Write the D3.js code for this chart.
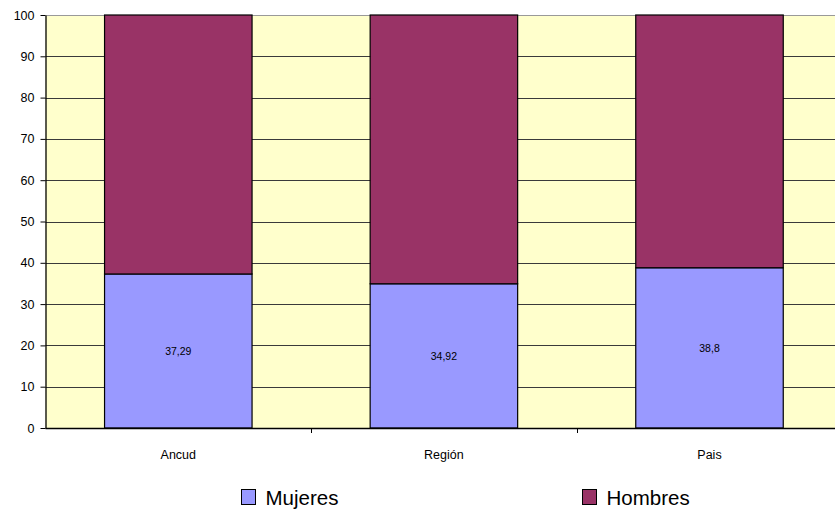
<!DOCTYPE html>
<html><head><meta charset="utf-8">
<script src="https://cdn.jsdelivr.net/npm/d3@7"></script>
<style>body{margin:0;background:#fff;}svg{display:block;font-family:"Liberation Sans",Arial,sans-serif;}</style>
</head><body><svg id="c" width="835" height="514"></svg>
<script>
const categories = ["Ancud", "Región", "Pais"];
const mujeres = [37.29, 34.92, 38.8];
const hombres = [62.71, 65.08, 61.2];
const mujeresLabels = ["37,29", "34,92", "38,8"];
const yTicks = [0,10,20,30,40,50,60,70,80,90,100];
const seriesNames = ["Mujeres", "Hombres"];
const colors = {Mujeres: "#9999FF", Hombres: "#993366"};

(function(){
const svg = d3.select("#c");
const pLeft = 45.5, pTop = 15, pBottom = 428, bandW = 265.6;
const pRight = pLeft + bandW * categories.length;
const x = d3.scaleBand().domain(categories).range([pLeft, pRight]).paddingInner(0).paddingOuter(0);
const y = d3.scaleLinear().domain([0, 100]).range([pBottom, pTop]);

svg.append("rect").attr("x", pLeft).attr("y", pTop).attr("width", pRight-pLeft).attr("height", pBottom-pTop).attr("fill", "#FFFFCC");
svg.append("line").attr("x1", pLeft).attr("x2", pRight).attr("y1", pTop+0.5).attr("y2", pTop+0.5).attr("stroke", "#999");

svg.append("g").selectAll("line").data(yTicks.filter(d => d>0 && d<100)).join("line")
  .attr("x1", pLeft).attr("x2", pRight)
  .attr("y1", d => Math.round(y(d))+0.5).attr("y2", d => Math.round(y(d))+0.5)
  .attr("stroke", "#3a3a3a").attr("stroke-width", 1);

const barW = 147.5;
const data = categories.map((c,i) => ({c, m: mujeres[i], h: hombres[i], lab: mujeresLabels[i]}));
const g = svg.append("g");
data.forEach(d => {
  const cx = x(d.c) + x.bandwidth()/2;
  g.append("rect").attr("x", cx - barW/2).attr("width", barW)
    .attr("y", y(d.m)).attr("height", y(0)-y(d.m))
    .attr("fill", colors.Mujeres).attr("stroke", "#000").attr("stroke-width", 1.2);
  g.append("rect").attr("x", cx - barW/2).attr("width", barW)
    .attr("y", y(d.m + d.h)).attr("height", y(d.m)-y(d.m+d.h))
    .attr("fill", colors.Hombres).attr("stroke", "#000").attr("stroke-width", 1.2);
  g.append("text").attr("x", cx).attr("y", y(d.m/2)+4).attr("text-anchor","middle")
    .attr("font-size", 10.5).attr("fill", "#000").text(d.lab);
});

const yAxis = d3.axisLeft(y).tickValues(yTicks).tickSize(5).tickSizeOuter(0).tickPadding(6);
const ya = svg.append("g").attr("transform", `translate(${pLeft},0)`).call(yAxis);
ya.selectAll("text").attr("font-size", 12.5).attr("font-family", "Liberation Sans, Arial, sans-serif").attr("fill","#000");
ya.select(".domain").attr("stroke", "#000").attr("stroke-width", 1.3);
ya.selectAll(".tick line").attr("stroke", "#000");

const xTickPos = [1,2].map(i => pLeft + bandW*i);
svg.append("line").attr("x1", pLeft).attr("x2", pRight).attr("y1", pBottom+0.5).attr("y2", pBottom+0.5).attr("stroke", "#000").attr("stroke-width", 1.3);
svg.append("g").selectAll("line").data(xTickPos).join("line")
  .attr("x1", d => Math.round(d)+0.5).attr("x2", d => Math.round(d)+0.5)
  .attr("y1", pBottom).attr("y2", pBottom+5).attr("stroke", "#000");
svg.append("g").selectAll("text").data(categories).join("text")
  .attr("x", d => x(d) + x.bandwidth()/2).attr("y", 459).attr("text-anchor", "middle")
  .attr("font-size", 12.5).attr("fill", "#000").text(d => d);

const legX = [241.5, 582.5];
const leg = svg.append("g");
seriesNames.forEach((s,i) => {
  leg.append("rect").attr("x", legX[i]).attr("y", 489.5).attr("width", 14).attr("height", 15)
    .attr("fill", colors[s]).attr("stroke", "#000").attr("stroke-width", 1);
  leg.append("text").attr("x", legX[i] + 24).attr("y", 505).attr("font-size", 20.5).attr("fill", "#000").text(s);
});
})();
</script></body></html>
